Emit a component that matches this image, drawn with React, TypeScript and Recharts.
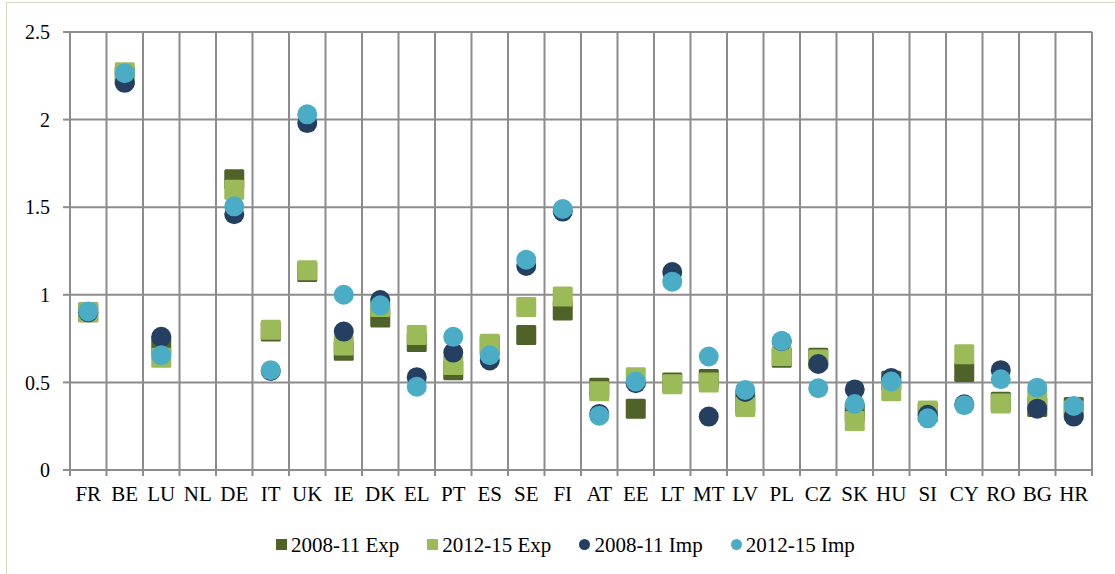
import React from 'react';
import { ScatterChart, Scatter, XAxis, YAxis, CartesianGrid, Legend } from 'recharts';

// Country codes along the x axis (NL has no values)
const countries = [
  'FR', 'BE', 'LU', 'NL', 'DE', 'IT', 'UK', 'IE', 'DK', 'EL', 'PT', 'ES', 'SE', 'FI',
  'AT', 'EE', 'LT', 'MT', 'LV', 'PL', 'CZ', 'SK', 'HU', 'SI', 'CY', 'RO', 'BG', 'HR',
];

const exp2008 = [
  0.9, 2.25, 0.71, null, 1.66, 0.79, 1.13, 0.68, 0.87, 0.73, 0.57, 0.71, 0.77, 0.91,
  0.47, 0.35, 0.5, 0.52, 0.38, 0.64, 0.64, 0.33, 0.51, 0.33, 0.56, 0.39, 0.36, 0.36,
];

const exp2012 = [
  0.9, 2.27, 0.64, null, 1.6, 0.8, 1.14, 0.71, 0.93, 0.77, 0.6, 0.72, 0.93, 0.99,
  0.45, 0.53, 0.49, 0.5, 0.36, 0.65, 0.63, 0.28, 0.45, 0.34, 0.66, 0.38, 0.41, 0.34,
];

const imp2008 = [
  0.9, 2.21, 0.76, null, 1.46, 0.565, 1.98, 0.79, 0.97, 0.53, 0.67, 0.625, 1.165, 1.475,
  0.32, 0.495, 1.13, 0.305, 0.445, 0.735, 0.605, 0.46, 0.525, 0.315, 0.375, 0.57, 0.35, 0.305,
];

const imp2012 = [
  0.905, 2.265, 0.655, null, 1.505, 0.57, 2.03, 1.0, 0.94, 0.475, 0.76, 0.655, 1.2, 1.49,
  0.31, 0.505, 1.075, 0.648, 0.457, 0.737, 0.467, 0.377, 0.505, 0.295, 0.37, 0.518, 0.47, 0.366,
];

const yTicks = [0, 0.5, 1, 1.5, 2, 2.5];

const seriesInfo = [
  { key: 'exp2008', label: '2008-11 Exp', color: '#4f6228', marker: 'square', values: exp2008 },
  { key: 'exp2012', label: '2012-15 Exp', color: '#9bbb59', marker: 'square', values: exp2012 },
  { key: 'imp2008', label: '2008-11 Imp', color: '#243f60', marker: 'circle', values: imp2008 },
  { key: 'imp2012', label: '2012-15 Imp', color: '#4bacc6', marker: 'circle', values: imp2012 },
];

const FONT = '"Liberation Serif", "Times New Roman", serif';
const GRID = '#8c8c8c';

// ticks sit on the category boundaries, so the grid runs between countries
const boundaryTicks = [...countries.map((_, i) => i), countries.length];

const toPoints = (values: (number | null)[]) =>
  values
    .map((v, i) => ({ x: i + 0.5, y: v, country: countries[i] }))
    .filter((p) => p.y !== null);

// country name drawn half a band to the right of its left boundary tick
const CountryTick = (props: any) => {
  const { x, y, payload, width } = props;
  const idx = payload.value;
  if (idx >= countries.length) return null;
  const half = width / countries.length / 2;
  return (
    <text
      x={x + half}
      y={y + 8}
      dy="0.71em"
      textAnchor="middle"
      fill="#000"
      fontSize={21}
      fontFamily={FONT}
    >
      {countries[idx]}
    </text>
  );
};

const SquareMarker = (props: any) => {
  const { cx, cy, fill } = props;
  return <rect x={cx - 10} y={cy - 10} width={20} height={20} rx={1.5} fill={fill} />;
};

const CircleMarker = (props: any) => {
  const { cx, cy, fill } = props;
  return <circle cx={cx} cy={cy} r={10} fill={fill} />;
};

const LegendContent = () => (
  <div
    style={{
      display: 'flex',
      alignItems: 'center',
      height: 24,
      paddingLeft: 276,
      fontFamily: FONT,
      fontSize: 21,
      color: '#000',
    }}
  >
    {seriesInfo.map((s) => (
      <div key={s.key} style={{ display: 'flex', alignItems: 'center', marginRight: 28 }}>
        <span
          style={{
            display: 'inline-block',
            width: 11,
            height: 11,
            marginRight: 4,
            marginTop: -2,
            background: s.color,
            borderRadius: s.marker === 'circle' ? '50%' : 0,
          }}
        />
        <span style={{ whiteSpace: 'nowrap' }}>{s.label}</span>
      </div>
    ))}
  </div>
);

export default function App() {
  return (
    <div
      style={{
        position: 'absolute',
        left: 0,
        top: 0,
        width: 1115,
        height: 574,
        overflow: 'hidden',
        background: '#fff',
      }}
    >
      <div
        style={{
          position: 'absolute',
          left: 6,
          top: 2,
          width: 1200,
          height: 700,
          border: '1.5px solid #d9d6c0',
        }}
      />
      <ScatterChart
        width={1115}
        height={574}
        margin={{ top: 32, right: 23, bottom: 50, left: 0 }}
        style={{ position: 'absolute', left: 0, top: 0 }}
      >
        <CartesianGrid stroke={GRID} strokeWidth={2} />
        <XAxis
          type="number"
          dataKey="x"
          domain={[0, countries.length]}
          ticks={boundaryTicks}
          interval={0}
          tick={<CountryTick />}
          tickSize={6}
          tickLine={{ stroke: GRID, strokeWidth: 2 }}
          axisLine={{ stroke: GRID, strokeWidth: 2 }}
          height={30}
        />
        <YAxis
          type="number"
          dataKey="y"
          domain={[0, 2.5]}
          ticks={yTicks}
          interval={0}
          width={70}
          tick={{ fill: '#000', fontSize: 20, fontFamily: FONT }}
          tickSize={7}
          tickMargin={13}
          tickLine={{ stroke: GRID, strokeWidth: 2 }}
          axisLine={{ stroke: GRID, strokeWidth: 2 }}
        />
        <Legend
          verticalAlign="bottom"
          content={<LegendContent />}
          wrapperStyle={{ left: 0, top: 533, bottom: 'auto', width: 1115 }}
        />
        {seriesInfo.map((s) => (
          <Scatter
            key={s.key}
            name={s.label}
            data={toPoints(s.values)}
            fill={s.color}
            shape={s.marker === 'square' ? SquareMarker : CircleMarker}
            isAnimationActive={false}
          />
        ))}
      </ScatterChart>
    </div>
  );
}
